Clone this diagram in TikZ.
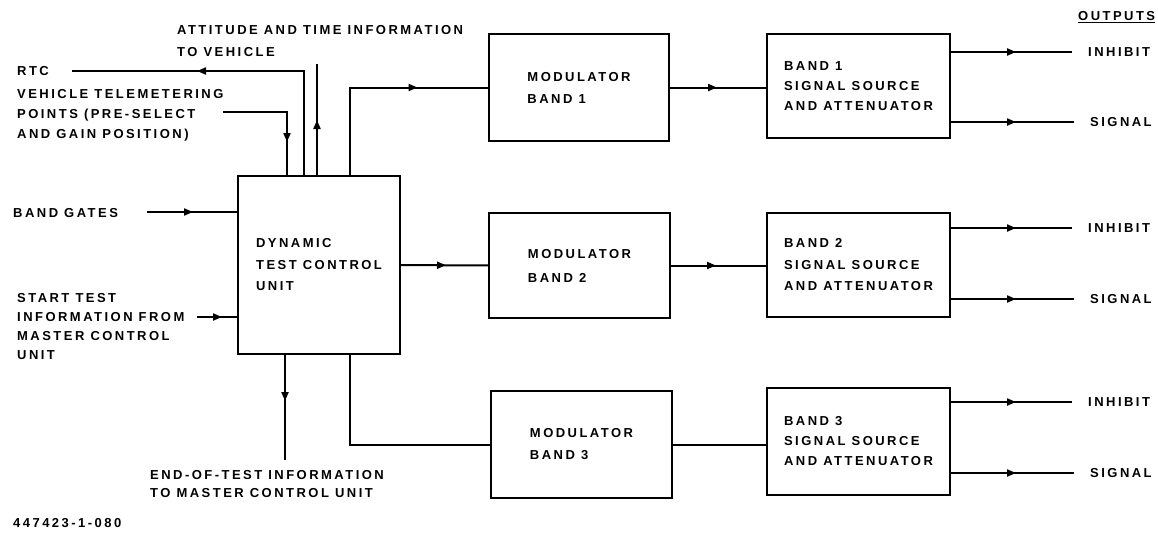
\documentclass[tikz,border=0pt]{standalone}
\usepackage{fontspec}
\setmainfont[LetterSpace=19]{Liberation Sans}
\usetikzlibrary{arrows.meta,decorations.markings,calc}
\begin{document}
\begin{tikzpicture}[x=1pt,y=-1pt,
  every node/.style={font=\fontsize{13}{20}\selectfont\bfseries},
  blockbox/.style={draw,line width=2.4pt,align=left,inner sep=0pt,outer sep=0pt},
  lbl/.style={anchor=west,align=left,inner sep=0pt},
  wire/.style={line width=2pt},
  arrowat/.style={wire,postaction={decorate},decoration={markings,
    mark=at position #1 with {\arrow{Triangle[length=9pt,width=7pt]}}}}]
\path[use as bounding box] (0,0) rectangle (1158,538);

% blocks
\node[blockbox,minimum width=162pt,minimum height=178pt,
  font=\fontsize{13}{21.5}\selectfont\bfseries] (dtcu) at (319,265) {DYNAMIC\\TEST CONTROL\\UNIT};
\node[blockbox,minimum width=180pt,minimum height=107pt,
  font=\fontsize{13}{22}\selectfont\bfseries] (mod1) at (579,87.5) {MODULATOR\\BAND 1};
\node[blockbox,minimum width=181pt,minimum height=105pt,
  font=\fontsize{13}{24}\selectfont\bfseries] (mod2) at (579.5,265.5) {MODULATOR\\BAND 2};
\node[blockbox,minimum width=181pt,minimum height=107pt,
  font=\fontsize{13}{22}\selectfont\bfseries] (mod3) at (581.5,444.5) {MODULATOR\\BAND 3};
\node[blockbox,minimum width=183pt,minimum height=104pt] (band1) at (858.5,86) {BAND 1\\SIGNAL SOURCE\\AND ATTENUATOR};
\node[blockbox,minimum width=183pt,minimum height=104pt,
  font=\fontsize{13}{21.5}\selectfont\bfseries] (band2) at (858.5,265) {BAND 2\\SIGNAL SOURCE\\AND ATTENUATOR};
\node[blockbox,minimum width=183pt,minimum height=107pt] (band3) at (858.5,441.5) {BAND 3\\SIGNAL SOURCE\\AND ATTENUATOR};

% labels
\node[lbl] (rtc) at (17,71) {RTC};
\node[lbl] (tel) at (17,115) {VEHICLE TELEMETERING\\POINTS (PRE-SELECT\\AND GAIN POSITION)};
\node[lbl,font=\fontsize{13}{22}\selectfont\bfseries] (att) at (177,41) {ATTITUDE AND TIME INFORMATION\\TO VEHICLE};
\node[lbl] (bg) at (13,213) {BAND GATES};
\node[lbl,font=\fontsize{13}{19}\selectfont\bfseries] (st) at (17,326.5) {START TEST\\INFORMATION FROM\\MASTER CONTROL\\UNIT};
\node[lbl,font=\fontsize{13}{18}\selectfont\bfseries] (eot) at (150,484) {END-OF-TEST INFORMATION\\TO MASTER CONTROL UNIT};
\node[lbl] (num) at (13,523) {447423-1-080};
\node[lbl] (outp) at (1078,17) {\underline{OUTPUTS}};

\node[lbl] (inh1) at (1088,52) {INHIBIT};
\node[lbl] (sig1) at (1090,122) {SIGNAL};
\node[lbl] (inh2) at (1088,228) {INHIBIT};
\node[lbl] (sig2) at (1090,299) {SIGNAL};
\node[lbl] (inh3) at (1088,402) {INHIBIT};
\node[lbl] (sig3) at (1090,473) {SIGNAL};

% free ends
\coordinate (rtcend) at (72,71);
\coordinate (attend) at (317,64);
\coordinate (telend) at (223,112);
\coordinate (bgend) at (147,212);
\coordinate (stend) at (197,317);
\coordinate (eotend) at (285,460);

% connectors, left side
\draw[arrowat=212pt] ([xshift=66pt]dtcu.north west) |- (rtcend);
\draw[arrowat=56pt] ([xshift=79pt]dtcu.north west) -- (attend);
\draw[arrowat=94pt] (telend) -| ([xshift=49pt]dtcu.north west);
\draw[arrowat=46pt] (bgend) -- (dtcu.west |- bgend);
\draw[arrowat=25pt] (stend) -- (dtcu.west |- stend);
\draw[arrowat=47pt] ([xshift=47pt]dtcu.south west) -- (eotend);

% DTCU to modulators
\draw[arrowat=156pt] ([xshift=112pt]dtcu.north west) |- (mod1.west);
\draw[arrowat=46pt] (dtcu.east) -- (mod2.west);
\draw[wire] ([xshift=112pt]dtcu.south west) |- (mod3.west);

% modulators to bands
\draw[arrowat=48pt] (mod1.east) -- (mod1.east -| band1.west);
\draw[arrowat=46pt] (mod2.east) -- (mod2.east -| band2.west);
\draw[wire] (mod3.east) -- (mod3.east -| band3.west);

% outputs
\foreach \b/\n in {band1/inh1,band1/sig1,band2/inh2,band2/sig2,band3/inh3,band3/sig3}{
  \draw[arrowat=66pt] (\b.east |- \n.west) -- ([xshift=-16pt]\n.west);
}
\end{tikzpicture}
\end{document}
